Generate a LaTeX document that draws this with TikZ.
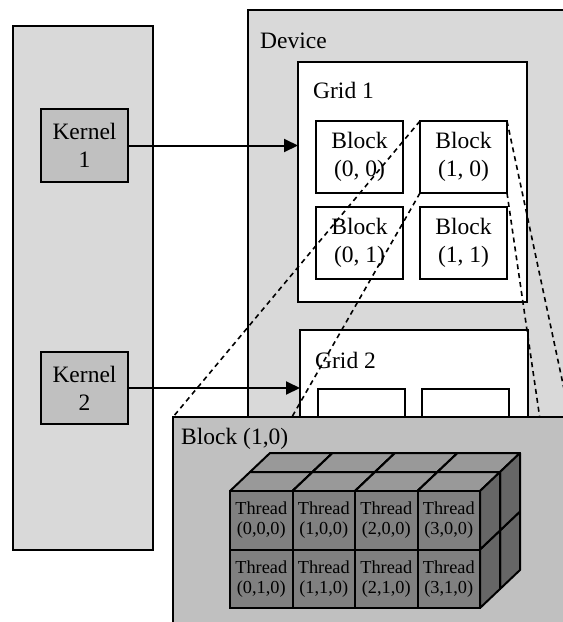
\documentclass[tikz,border=0pt]{standalone}
\usepackage{fontspec}
\setmainfont{Liberation Serif}
\definecolor{hostGray}{RGB}{217, 217, 217}
\definecolor{kernGray}{RGB}{192, 192, 192}
\definecolor{blkGray}{RGB}{192, 192, 192}
\definecolor{cubeFront}{RGB}{128, 128, 128}
\definecolor{cubeTop}{RGB}{153, 153, 153}
\definecolor{cubeSide}{RGB}{102, 102, 102}
\usetikzlibrary{positioning, calc, arrows.meta}
\pgfdeclarelayer{front}
\pgfsetlayers{main,front}
\newcommand{\bigtxt}{\fontsize{23.5}{28}\selectfont}
\newcommand{\thrtxt}{\fontsize{18.3}{20}\selectfont}
\tikzset{
  areabox/.style={rectangle, draw=black, fill=hostGray, line width=2pt,
                  anchor=north west, inner sep=0pt, outer sep=0pt},
  kernbox/.style={rectangle, draw=black, fill=kernGray, line width=2pt,
                  minimum width=87pt, minimum height=73pt, anchor=north west,
                  align=center, inner sep=0pt, outer sep=0pt, font=\bigtxt},
  gridbox/.style={rectangle, draw=black, fill=white, line width=2pt,
                  anchor=north west, inner sep=0pt, outer sep=0pt},
  blockbox/.style={rectangle, draw=black, fill=white, line width=2pt,
                   minimum width=87pt, minimum height=72pt, anchor=north west,
                   align=center, inner sep=0pt, outer sep=0pt, font=\bigtxt},
  threadbox/.style={rectangle, draw=black, fill=cubeFront, line width=2pt,
                    minimum width=62.5pt, minimum height=58.5pt, anchor=north west,
                    align=center, inner sep=0pt, outer sep=0pt, font=\thrtxt,
                    text=black},
  cubeface/.style={draw=black, line width=2pt, line join=round},
  lbl/.style={anchor=base west, inner sep=0pt, font=\bigtxt},
  zoomline/.style={dashed, dash pattern=on 5pt off 4pt, line width=1.6pt},
}

\begin{document}
\begin{tikzpicture}[
    x=1pt, y=-1pt,
    arrow/.style={-{Triangle[length=14pt, width=13pt]}, line width=2pt},
  ]
    \useasboundingbox (0,0) rectangle (563,622);
    \clip (0,0) rectangle (563,622);

    % Host side
    \node[areabox, minimum width=140pt, minimum height=524pt] (host) at (13,26) {};
    \node[kernbox] (k1) at (41,109) {Kernel\\1};
    \node[kernbox, minimum height=72pt] (k2) at (41,352) {Kernel\\2};

    % Device
    \node[areabox, minimum width=380pt, minimum height=620pt] (dev) at (248,10) {};
    \node[lbl] (devlbl) at (260,48) {Device};

    % Grid 1
    \node[gridbox, minimum width=229pt, minimum height=240pt] (g1) at (298,62) {};
    \node[lbl] (g1lbl) at (313,98) {Grid 1};
    \node[blockbox] (b00) at (316,121) {Block\\(0, 0)};
    \node[blockbox] (b10) at (420,121) {Block\\(1, 0)};
    \node[blockbox] (b01) at (316,207) {Block\\(0, 1)};
    \node[blockbox] (b11) at (420,207) {Block\\(1, 1)};

    % Grid 2
    \node[gridbox, minimum width=228pt, minimum height=190pt] (g2) at (300,330) {};
    \node[lbl] (g2lbl) at (315,368) {Grid 2};
    \node[blockbox] (g2b0) at (318,389) {};
    \node[blockbox] (g2b1) at (422,389) {};

    \draw[arrow] (k1.east) -- (k1.east -| g1.west);
    \draw[arrow] (k2.east) -- (k2.east -| g2.west);

    % Block (1,0) blown up
    \begin{pgfonlayer}{front}
      \node[areabox, fill=blkGray, minimum width=397pt, minimum height=208pt] (blk) at (173,417) {};
      \node[lbl] (blklbl) at (181,444) {Block (1,0)};

      % back layer of threads
      \foreach \j in {1,0}{
        \foreach \i in {0,...,3}{
          \pgfmathsetmacro{\cx}{250+62.5*\i}
          \pgfmathsetmacro{\cy}{472+58.5*\j}
          \draw[cubeface, fill=cubeTop] (\cx,\cy) -- ++(20,-19) -- ++(62.5,0) -- ++(-20,19) -- cycle;
          \draw[cubeface, fill=cubeSide] (\cx+62.5,\cy) -- ++(20,-19) -- ++(0,58.5) -- ++(-20,19) -- cycle;
        }
      }
      % front layer of threads
      \foreach \j in {1,0}{
        \foreach \i in {0,...,3}{
          \pgfmathsetmacro{\cx}{230+62.5*\i}
          \pgfmathsetmacro{\cy}{491+58.5*\j}
          \draw[cubeface, fill=cubeTop] (\cx,\cy) -- ++(20,-19) -- ++(62.5,0) -- ++(-20,19) -- cycle;
          \draw[cubeface, fill=cubeSide] (\cx+62.5,\cy) -- ++(20,-19) -- ++(0,58.5) -- ++(-20,19) -- cycle;
          \node[threadbox] (th\i\j) at (\cx,\cy) {Thread\\(\i,\j,0)};
        }
      }
    \end{pgfonlayer}

    % zoom lines
    \draw[zoomline] (b10.north west) -- (blk.north west);
    \draw[zoomline] (b10.south west) -- (blk.south west);
    \draw[zoomline] (b10.north east) -- (blk.north east);
    \draw[zoomline] (b10.south east) -- (blk.south east);
  \end{tikzpicture}
\end{document}
